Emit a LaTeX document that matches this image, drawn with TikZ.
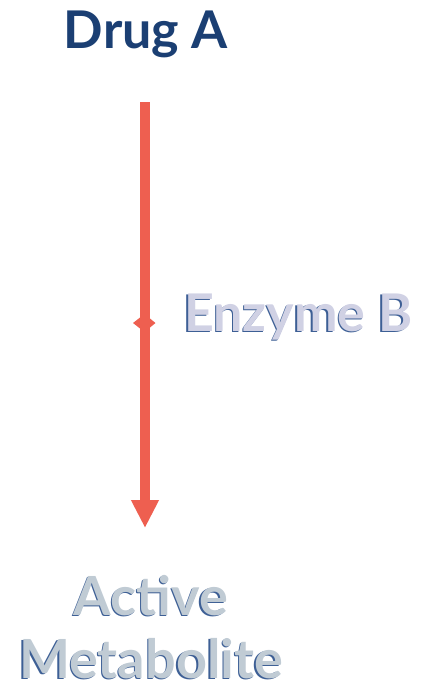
\documentclass[tikz,border=0pt]{standalone}
\usepackage{fontspec}
\setmainfont{Lato}[UprightFont=* Bold]
\usetikzlibrary{arrows.meta}
\definecolor{drugblue}{HTML}{1B3F73}
\definecolor{shadowblue}{HTML}{3D5F95}
\definecolor{enzfill}{HTML}{D0D1E4}
\definecolor{metafill}{HTML}{C0CBD4}
\definecolor{arrowred}{HTML}{EE5F50}
\newcommand{\shtext}[2]{\leavevmode\rlap{\kern-1.3pt\raisebox{-1.3pt}{\color{shadowblue}#2}}{\color{#1}#2}}
\tikzset{
  lbl/.style={inner sep=0pt, font=\fontsize{52}{60}\selectfont},
  flow/.style={draw=arrowred, line width=10pt, -{Triangle[width=26pt,length=28pt]}},
}
\begin{document}
\begin{tikzpicture}[x=1pt,y=-1pt]
\useasboundingbox (0,0) rectangle (426,683);
\node[lbl, anchor=base, text=drugblue] (drug) at (146,48) {Drug A};
\coordinate (start) at (145,102);
\coordinate (tip) at (145,528);
\draw[flow] (start) -- (tip);
\coordinate (mid) at (144.5,323);
\fill[arrowred] ([xshift=-11.5pt]mid) -- ([yshift=-9pt]mid) -- ([xshift=11pt]mid) -- ([yshift=9pt]mid) -- cycle;
\node[lbl, anchor=base west] (enz) at (184,331) {\shtext{enzfill}{Enzyme B}};
\node[lbl, font=\fontsize{54}{63}\selectfont, align=center, anchor=south] (meta) at (151,680) {\shtext{metafill}{Active}\\\shtext{metafill}{Metabolite}};
\end{tikzpicture}
\end{document}
